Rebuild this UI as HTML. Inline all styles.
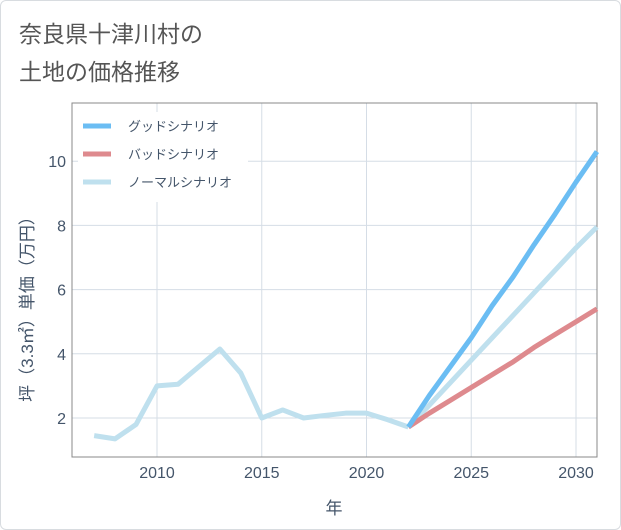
<!DOCTYPE html>
<html><head><meta charset="utf-8"><style>
body{margin:0;background:#fff;font-family:"Liberation Sans","Noto Sans CJK JP",sans-serif;}
#card{position:absolute;left:0;top:0;width:619px;height:528px;border:1px solid #d8dce0;border-radius:6px;background:#fff;}
.t{position:absolute;left:18px;font-size:23px;color:#555;}
</style></head><body>
<div id="card">
<div class="t" style="top:14px">奈良県十津川村の</div>
<div class="t" style="top:52px">土地の価格推移</div>
<svg id="chart" width="621" height="530" style="position:absolute;left:-1px;top:-1px"></svg>
</div>
<script>
const histYears=[2007,2008,2009,2010,2011,2012,2013,2014,2015,2016,2017,2018,2019,2020,2021,2022];
const histValues=[1.45,1.35,1.8,3.0,3.05,3.6,4.15,3.4,2.0,2.25,2.0,2.08,2.15,2.15,1.95,1.72];
const projYears=[2022,2023,2024,2025,2026,2027,2028,2029,2030,2031];
const goodValues=[1.72,2.7,3.6,4.5,5.5,6.4,7.4,8.35,9.35,10.3];
const badValues=[1.72,2.15,2.55,2.95,3.35,3.75,4.2,4.6,5.0,5.4];
const normalValues=[1.72,2.4,3.1,3.8,4.5,5.2,5.9,6.6,7.3,7.95];
const xTicks=[2010,2015,2020,2025,2030];
const yTicks=[2,4,6,8,10];
const legendLabels=["グッドシナリオ","バッドシナリオ","ノーマルシナリオ"];

const L=72,R=597,T=103,B=457;
const x=y=>157+(y-2010)*20.95;
const yS=v=>418-(v-2)*32.1;
const svg=document.getElementById('chart');
const NS='http://www.w3.org/2000/svg';
function mk(tag,attrs){const e=document.createElementNS(NS,tag);for(const k in attrs)e.setAttribute(k,attrs[k]);svg.appendChild(e);return e;}
xTicks.forEach(t=>{
 const g=mk('line',{x1:x(t),x2:x(t),y1:T,y2:B,stroke:'#d5dde6','stroke-width':1});
 
 
 const tx=mk('text',{x:x(t),y:478,'text-anchor':'middle','font-size':16,fill:'#44556a'});
 tx.textContent=t;
 
 
});
yTicks.forEach(t=>{
 const g=mk('line',{x1:L,x2:R,y1:yS(t),y2:yS(t),stroke:'#d5dde6','stroke-width':1});
 
 
 const tx=mk('text',{x:66,y:yS(t)+6,'text-anchor':'end','font-size':16,fill:'#44556a'});
 tx.textContent=t;
 
 
});
const frame=mk('rect',{x:L,y:T,width:R-L,height:B-T,fill:'none',stroke:'#888','stroke-width':1});


function line(xs,vs,color,name){
 const p=mk('polyline',{points:xs.map((yr,i)=>x(yr)+','+yS(vs[i])).join(' '),fill:'none',stroke:color,'stroke-width':5,'stroke-linejoin':'round'});
 
 
}
line(histYears,histValues,'#bfe0ee','historical-line');
line(projYears,normalValues,'#bfe0ee','normal-scenario-line');
line(projYears,badValues,'#de8a8e','bad-scenario-line');
line(projYears,goodValues,'#6bbdf3','good-scenario-line');
const lg=mk('rect',{x:78,y:112,width:170,height:90,fill:'#fff'});


const lc=['#6bbdf3','#de8a8e','#bfe0ee'];
legendLabels.forEach((s,i)=>{
 const yy=126+i*28;
 const sw=mk('line',{x1:83,x2:111,y1:yy,y2:yy,stroke:lc[i],'stroke-width':5});
 
 
 const tx=mk('text',{x:128,y:yy+5,'font-size':13,fill:'#44556a'});
 tx.textContent=s;
 
 
});
const xt=mk('text',{x:334,y:514,'text-anchor':'middle','font-size':17,fill:'#44556a'});
xt.textContent='年';


const yt=mk('text',{x:0,y:0,'text-anchor':'middle','font-size':17,fill:'#44556a',transform:'translate(33,305) rotate(-90)'});
yt.textContent='坪（3.3㎡）単価（万円）';


</script>
</body></html>
